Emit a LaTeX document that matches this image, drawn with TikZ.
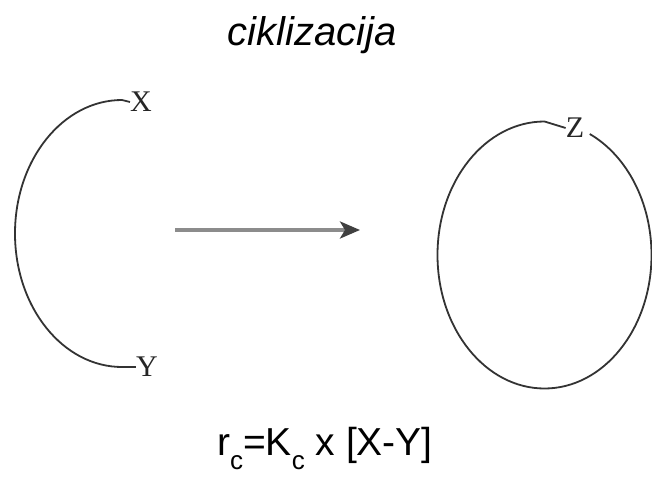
\documentclass[tikz,border=0pt]{standalone}
\usepackage{fontspec}
\setmainfont{Liberation Sans}
\newfontfamily\atomfont{Liberation Serif}
\usetikzlibrary{arrows.meta}
\newcommand{\subc}{\raisebox{-14pt}{\fontsize{26}{26}\selectfont c}}
\begin{document}
\begin{tikzpicture}[x=1pt,y=-1pt,
  curve/.style={line width=1.8pt, draw=black!80},
  atom/.style={font=\atomfont\fontsize{30}{30}\selectfont, inner sep=0pt, text=black!85},
  titletext/.style={font=\fontsize{40}{40}\selectfont\itshape, inner sep=0pt},
  formula/.style={font=\fontsize{39}{39}\selectfont, inner sep=0pt, anchor=base},
  react/.style={line width=3.5pt, draw=black!45, -{Stealth[length=20pt,width=17pt,inset=5pt,color=black!75]}}]
\useasboundingbox (0,0) rectangle (652,476);
\node[titletext] (title) at (312,35) {ciklizacija};
% left open chain
\node[atom] (X) at (141,102) {X};
\node[atom] (Y) at (147,367) {Y};
\coordinate (xe) at (122,100);
\coordinate (ye) at (122,367);
\draw[curve] (X.west) -- (xe) arc[start angle=90, end angle=270, x radius=107pt, y radius=133.5pt] -- (Y.west);
% arrow
\coordinate (a1) at (175,230);
\coordinate (a2) at (360,230);
\draw[react] (a1) -- (a2);
% ring
\node[atom] (Z) at (575,128) {Z};
\coordinate (zt) at (544.5,121.5);
\draw[curve] (Z.west) -- (zt) arc[start angle=90, end angle=425, x radius=107pt, y radius=133.5pt];
% formula
\node[formula] (rate) at (325,455) {r\subc=K\subc\ x [X-Y]};
\end{tikzpicture}
\end{document}
